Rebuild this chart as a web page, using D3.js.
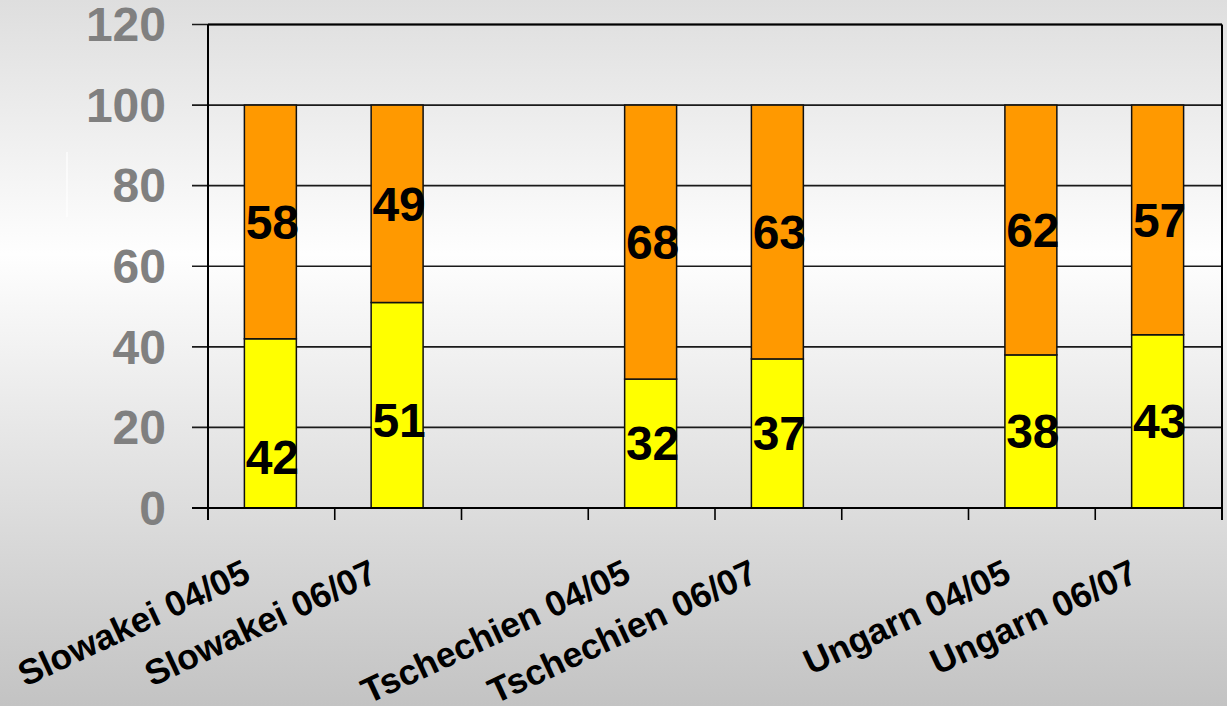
<!DOCTYPE html>
<html><head><meta charset="utf-8">
<script src="https://cdn.jsdelivr.net/npm/d3@7/dist/d3.min.js"></script>
<style>html,body{margin:0;padding:0;overflow:hidden;}svg{display:block;}</style>
</head><body>
<svg id="chart" width="1227" height="706"></svg>
<script>
const categories = ["Slowakei 04/05", "Slowakei 06/07", "", "Tschechien 04/05", "Tschechien 06/07", "", "Ungarn 04/05", "Ungarn 06/07"];
const yellowValues = [42, 51, null, 32, 37, null, 38, 43];
const orangeValues = [58, 49, null, 68, 63, null, 62, 57];
const yTicks = [0, 20, 40, 60, 80, 100, 120];

const W = 1227, H = 706;
const m = {left: 208, right: 1222, top: 24.5, bottom: 508};
const svg = d3.select("#chart");

// background gradient
const defs = svg.append("defs");
const grad = defs.append("linearGradient").attr("id", "bg").attr("x1", 0).attr("y1", 0).attr("x2", 0).attr("y2", 1);
grad.append("stop").attr("offset", "0%").attr("stop-color", "#dedede");
grad.append("stop").attr("offset", "36%").attr("stop-color", "#fefefe");
grad.append("stop").attr("offset", "100%").attr("stop-color", "#c3c3c3");
svg.append("rect").attr("width", W).attr("height", H).attr("fill", "url(#bg)");
svg.append("line").attr("x1", 67).attr("x2", 67).attr("y1", 152).attr("y2", 217)
  .attr("stroke", "#ffffff").attr("stroke-width", 1.2);

const x = d3.scaleBand().domain(d3.range(categories.length)).range([m.left, m.right]).padding(0);
const y = d3.scaleLinear().domain([0, 120]).range([m.bottom, m.top]);
const barW = x.bandwidth() * 0.41;

// gridlines
svg.append("g").selectAll("line").data(yTicks).join("line")
  .attr("x1", m.left - 16).attr("x2", m.right)
  .attr("y1", d => y(d)).attr("y2", d => y(d))
  .attr("stroke", "#1a1a1a").attr("stroke-width", 1.6);

// y labels
svg.append("g").selectAll("text").data(yTicks).join("text")
  .attr("x", 166).attr("y", d => y(d)).attr("dy", "0.35em")
  .attr("text-anchor", "end")
  .attr("font-family", "Liberation Sans, Arial, sans-serif")
  .attr("font-weight", "bold").attr("font-size", 48).attr("fill", "#808080")
  .text(d => d);

// frame
svg.append("line").attr("x1", m.left).attr("x2", m.left).attr("y1", m.top).attr("y2", m.bottom + 12)
  .attr("stroke", "#000").attr("stroke-width", 2);
svg.append("line").attr("x1", m.right).attr("x2", m.right).attr("y1", m.top).attr("y2", m.bottom + 12)
  .attr("stroke", "#000").attr("stroke-width", 2);
svg.append("line").attr("x1", m.left).attr("x2", m.right).attr("y1", m.top).attr("y2", m.top)
  .attr("stroke", "#000").attr("stroke-width", 2);

// x ticks
const xb = d3.range(categories.length + 1).map(i => m.left + i * x.step());
svg.append("g").selectAll("line").data(xb).join("line")
  .attr("x1", d => d).attr("x2", d => d).attr("y1", m.bottom).attr("y2", m.bottom + 12)
  .attr("stroke", "#000").attr("stroke-width", 1.6);

// bars
const idx = d3.range(categories.length).filter(i => yellowValues[i] != null);
const g = svg.append("g");
const cx = i => x(i) + x.bandwidth() / 2 - 1;
g.selectAll("rect.y").data(idx).join("rect").attr("class", "y")
  .attr("x", i => cx(i) - barW / 2).attr("width", barW)
  .attr("y", i => y(yellowValues[i])).attr("height", i => y(0) - y(yellowValues[i]))
  .attr("fill", "#ffff00").attr("stroke", "#111").attr("stroke-width", 1.5);
g.selectAll("rect.o").data(idx).join("rect").attr("class", "o")
  .attr("x", i => cx(i) - barW / 2).attr("width", barW)
  .attr("y", i => y(yellowValues[i] + orangeValues[i])).attr("height", i => y(yellowValues[i]) - y(yellowValues[i] + orangeValues[i]))
  .attr("fill", "#ff9900").attr("stroke", "#111").attr("stroke-width", 1.5);

// x axis line on top of bars
svg.append("line").attr("x1", m.left - 16).attr("x2", m.right).attr("y1", m.bottom).attr("y2", m.bottom)
  .attr("stroke", "#000").attr("stroke-width", 2);

// value labels
const nudge = {0: 34, 1: 15};
const lab = svg.append("g").attr("font-family", "Liberation Sans, Arial, sans-serif")
  .attr("font-weight", "bold").attr("font-size", 48).attr("fill", "#000").attr("text-anchor", "middle");
lab.selectAll("text.y").data(idx).join("text")
  .attr("x", i => cx(i) + 2).attr("y", i => y(yellowValues[i] / 2) + (nudge[i] || 0)).attr("dy", "0.35em")
  .text(i => yellowValues[i]);
lab.selectAll("text.o").data(idx).join("text")
  .attr("x", i => cx(i) + 2).attr("y", i => y(yellowValues[i] + orangeValues[i] / 2)).attr("dy", "0.35em")
  .text(i => orangeValues[i]);

// category labels
svg.append("g").selectAll("text").data(idx).join("text")
  .attr("transform", i => `translate(${x(i) + x.bandwidth() / 2 - 19},${m.bottom + 73}) rotate(-25)`)
  .attr("text-anchor", "end")
  .attr("font-family", "Liberation Sans, Arial, sans-serif")
  .attr("font-weight", "bold").attr("font-size", 35.5).attr("fill", "#000")
  .text(i => categories[i]);
</script>
</body></html>
